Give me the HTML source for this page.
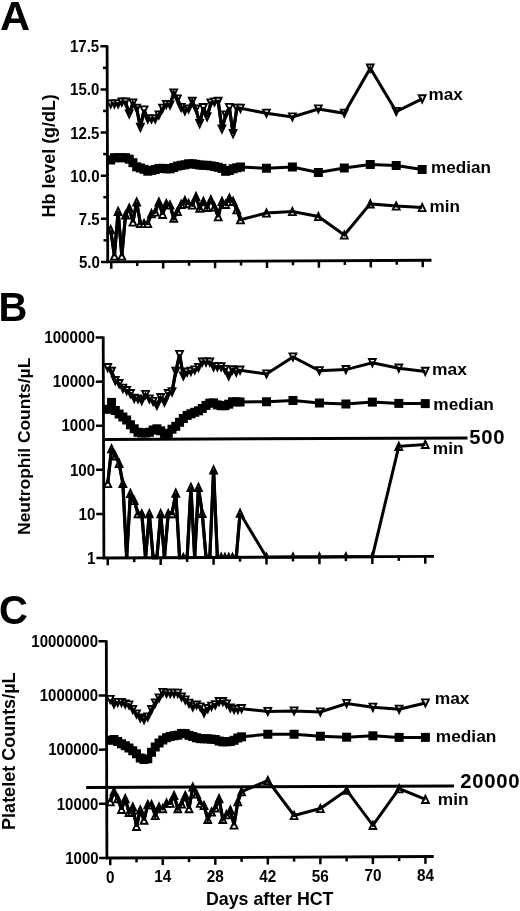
<!DOCTYPE html>
<html lang="en"><head><meta charset="utf-8"><title>Figure</title>
<style>html,body{margin:0;padding:0;background:#fff}svg{display:block}</style></head><body>
<svg width="520" height="911" viewBox="0 0 520 911">
<rect width="520" height="911" fill="#fff"/>
<polygon points="107.3,100.35 114.1,100.35 110.7,107.6" fill="#fff" stroke="#000" stroke-width="1.9"/>
<polygon points="111.01,100.35 117.81,100.35 114.41,107.6" fill="#fff" stroke="#000" stroke-width="1.9"/>
<polygon points="114.72,100.35 121.52,100.35 118.12,107.6" fill="#fff" stroke="#000" stroke-width="1.9"/>
<polygon points="118.42,98.55 125.22,98.55 121.82,105.8" fill="#fff" stroke="#000" stroke-width="1.9"/>
<polygon points="122.13,98.55 128.93,98.55 125.53,105.8" fill="#fff" stroke="#000" stroke-width="1.9"/>
<polygon points="125.84,110.35 132.64,110.35 129.24,117.6" fill="#fff" stroke="#000" stroke-width="1.9"/>
<polygon points="129.55,99.35 136.35,99.35 132.95,106.6" fill="#fff" stroke="#000" stroke-width="1.9"/>
<polygon points="133.26,104.65 140.06,104.65 136.66,111.9" fill="#fff" stroke="#000" stroke-width="1.9"/>
<polygon points="136.96,123.65 143.76,123.65 140.36,130.9" fill="#fff" stroke="#000" stroke-width="1.9"/>
<polygon points="140.67,106.35 147.47,106.35 144.07,113.6" fill="#fff" stroke="#000" stroke-width="1.9"/>
<polygon points="144.38,115.35 151.18,115.35 147.78,122.6" fill="#fff" stroke="#000" stroke-width="1.9"/>
<polygon points="148.09,115.35 154.89,115.35 151.49,122.6" fill="#fff" stroke="#000" stroke-width="1.9"/>
<polygon points="151.8,115.35 158.6,115.35 155.2,122.6" fill="#fff" stroke="#000" stroke-width="1.9"/>
<polygon points="155.5,111.35 162.3,111.35 158.9,118.6" fill="#fff" stroke="#000" stroke-width="1.9"/>
<polygon points="159.21,104.65 166.01,104.65 162.61,111.9" fill="#fff" stroke="#000" stroke-width="1.9"/>
<polygon points="162.92,100.85 169.72,100.85 166.32,108.1" fill="#fff" stroke="#000" stroke-width="1.9"/>
<polygon points="166.63,101.35 173.43,101.35 170.03,108.6" fill="#fff" stroke="#000" stroke-width="1.9"/>
<polygon points="170.34,89.35 177.14,89.35 173.74,96.6" fill="#fff" stroke="#000" stroke-width="1.9"/>
<polygon points="174.04,95.35 180.84,95.35 177.44,102.6" fill="#fff" stroke="#000" stroke-width="1.9"/>
<polygon points="177.75,103.85 184.55,103.85 181.15,111.1" fill="#fff" stroke="#000" stroke-width="1.9"/>
<polygon points="181.46,107.15 188.26,107.15 184.86,114.4" fill="#fff" stroke="#000" stroke-width="1.9"/>
<polygon points="185.17,105.35 191.97,105.35 188.57,112.6" fill="#fff" stroke="#000" stroke-width="1.9"/>
<polygon points="188.88,97.75 195.68,97.75 192.28,105" fill="#fff" stroke="#000" stroke-width="1.9"/>
<polygon points="192.58,105.35 199.38,105.35 195.98,112.6" fill="#fff" stroke="#000" stroke-width="1.9"/>
<polygon points="196.29,119.95 203.09,119.95 199.69,127.2" fill="#fff" stroke="#000" stroke-width="1.9"/>
<polygon points="200,103.95 206.8,103.95 203.4,111.2" fill="#fff" stroke="#000" stroke-width="1.9"/>
<polygon points="203.71,113.15 210.51,113.15 207.11,120.4" fill="#fff" stroke="#000" stroke-width="1.9"/>
<polygon points="207.42,99.35 214.22,99.35 210.82,106.6" fill="#fff" stroke="#000" stroke-width="1.9"/>
<polygon points="211.12,98.35 217.92,98.35 214.52,105.6" fill="#fff" stroke="#000" stroke-width="1.9"/>
<polygon points="214.83,97.75 221.63,97.75 218.23,105" fill="#fff" stroke="#000" stroke-width="1.9"/>
<polygon points="218.54,125.35 225.34,125.35 221.94,132.6" fill="#fff" stroke="#000" stroke-width="1.9"/>
<polygon points="222.25,111.35 229.05,111.35 225.65,118.6" fill="#fff" stroke="#000" stroke-width="1.9"/>
<polygon points="225.96,103.85 232.76,103.85 229.36,111.1" fill="#fff" stroke="#000" stroke-width="1.9"/>
<polygon points="229.66,130.05 236.46,130.05 233.06,137.3" fill="#fff" stroke="#000" stroke-width="1.9"/>
<polygon points="233.37,104.65 240.17,104.65 236.77,111.9" fill="#fff" stroke="#000" stroke-width="1.9"/>
<polygon points="237.08,104.65 243.88,104.65 240.48,111.9" fill="#fff" stroke="#000" stroke-width="1.9"/>
<polygon points="263.04,109.6 269.84,109.6 266.44,116.85" fill="#fff" stroke="#000" stroke-width="1.9"/>
<polygon points="288.99,113.35 295.79,113.35 292.39,120.6" fill="#fff" stroke="#000" stroke-width="1.9"/>
<polygon points="314.95,105.35 321.75,105.35 318.35,112.6" fill="#fff" stroke="#000" stroke-width="1.9"/>
<polygon points="340.9,109.6 347.7,109.6 344.3,116.85" fill="#fff" stroke="#000" stroke-width="1.9"/>
<polygon points="366.86,64.55 373.66,64.55 370.26,71.8" fill="#fff" stroke="#000" stroke-width="1.9"/>
<polygon points="392.82,107.85 399.62,107.85 396.22,115.1" fill="#fff" stroke="#000" stroke-width="1.9"/>
<polygon points="418.77,95.25 425.57,95.25 422.17,102.5" fill="#fff" stroke="#000" stroke-width="1.9"/>
<polyline fill="none" stroke="#000" stroke-width="3" stroke-linejoin="miter" stroke-miterlimit="3" points="110.7,104 114.41,104 118.12,104 121.82,102.2 125.53,102.2 129.24,114 132.95,103 136.66,108.3 140.36,127.3 144.07,110 147.78,119 151.49,119 155.2,119 158.9,115 162.61,108.3 166.32,104.5 170.03,105 173.74,93 177.44,99 181.15,107.5 184.86,110.8 188.57,109 192.28,101.4 195.98,109 199.69,123.6 203.4,107.6 207.11,116.8 210.82,103 214.52,102 218.23,101.4 221.94,129 225.65,115 229.36,107.5 233.06,133.7 236.77,108.3 240.48,108.3 266.44,113.25 292.39,117 318.35,109 344.3,113.25 370.26,68.2 396.22,111.5 422.17,98.9"/>
<polyline fill="none" stroke="#000" stroke-width="3.2" stroke-linejoin="miter" stroke-miterlimit="3" points="110.7,104 114.41,104 118.12,104 121.82,102.2 125.53,102.2 129.24,114 132.95,103 136.66,108.3 140.36,127.3 144.07,110 147.78,119 151.49,119 155.2,119 158.9,115 162.61,108.3 166.32,104.5 170.03,105 173.74,93 177.44,99 181.15,107.5 184.86,110.8 188.57,109 192.28,101.4 195.98,109 199.69,123.6 203.4,107.6 207.11,116.8 210.82,103 214.52,102 218.23,101.4 221.94,129 225.65,115 229.36,107.5 233.06,133.7 236.77,108.3 240.48,108.3"/>
<polygon points="107.3,233.35 114.1,233.35 110.7,226.1" fill="#fff" stroke="#000" stroke-width="1.9"/>
<polygon points="111.01,259.65 117.81,259.65 114.41,252.4" fill="#fff" stroke="#000" stroke-width="1.9"/>
<polygon points="114.72,214.95 121.52,214.95 118.12,207.7" fill="#fff" stroke="#000" stroke-width="1.9"/>
<polygon points="118.42,259.65 125.22,259.65 121.82,252.4" fill="#fff" stroke="#000" stroke-width="1.9"/>
<polygon points="122.13,218.65 128.93,218.65 125.53,211.4" fill="#fff" stroke="#000" stroke-width="1.9"/>
<polygon points="125.84,211.85 132.64,211.85 129.24,204.6" fill="#fff" stroke="#000" stroke-width="1.9"/>
<polygon points="129.55,225.65 136.35,225.65 132.95,218.4" fill="#fff" stroke="#000" stroke-width="1.9"/>
<polygon points="133.26,205.65 140.06,205.65 136.66,198.4" fill="#fff" stroke="#000" stroke-width="1.9"/>
<polygon points="136.96,227.15 143.76,227.15 140.36,219.9" fill="#fff" stroke="#000" stroke-width="1.9"/>
<polygon points="140.67,227.15 147.47,227.15 144.07,219.9" fill="#fff" stroke="#000" stroke-width="1.9"/>
<polygon points="144.38,227.15 151.18,227.15 147.78,219.9" fill="#fff" stroke="#000" stroke-width="1.9"/>
<polygon points="148.09,217.25 154.89,217.25 151.49,210" fill="#fff" stroke="#000" stroke-width="1.9"/>
<polygon points="151.8,215.65 158.6,215.65 155.2,208.4" fill="#fff" stroke="#000" stroke-width="1.9"/>
<polygon points="155.5,205.65 162.3,205.65 158.9,198.4" fill="#fff" stroke="#000" stroke-width="1.9"/>
<polygon points="159.21,217.95 166.01,217.95 162.61,210.7" fill="#fff" stroke="#000" stroke-width="1.9"/>
<polygon points="162.92,207.25 169.72,207.25 166.32,200" fill="#fff" stroke="#000" stroke-width="1.9"/>
<polygon points="166.63,208.65 173.43,208.65 170.03,201.4" fill="#fff" stroke="#000" stroke-width="1.9"/>
<polygon points="170.34,221.85 177.14,221.85 173.74,214.6" fill="#fff" stroke="#000" stroke-width="1.9"/>
<polygon points="174.04,214.95 180.84,214.95 177.44,207.7" fill="#fff" stroke="#000" stroke-width="1.9"/>
<polygon points="177.75,207.95 184.55,207.95 181.15,200.7" fill="#fff" stroke="#000" stroke-width="1.9"/>
<polygon points="181.46,204.15 188.26,204.15 184.86,196.9" fill="#fff" stroke="#000" stroke-width="1.9"/>
<polygon points="185.17,207.25 191.97,207.25 188.57,200" fill="#fff" stroke="#000" stroke-width="1.9"/>
<polygon points="188.88,208.65 195.68,208.65 192.28,201.4" fill="#fff" stroke="#000" stroke-width="1.9"/>
<polygon points="192.58,200.35 199.38,200.35 195.98,193.1" fill="#fff" stroke="#000" stroke-width="1.9"/>
<polygon points="196.29,211.85 203.09,211.85 199.69,204.6" fill="#fff" stroke="#000" stroke-width="1.9"/>
<polygon points="200,204.95 206.8,204.95 203.4,197.7" fill="#fff" stroke="#000" stroke-width="1.9"/>
<polygon points="203.71,211.05 210.51,211.05 207.11,203.8" fill="#fff" stroke="#000" stroke-width="1.9"/>
<polygon points="207.42,203.35 214.22,203.35 210.82,196.1" fill="#fff" stroke="#000" stroke-width="1.9"/>
<polygon points="211.12,210.65 217.92,210.65 214.52,203.4" fill="#fff" stroke="#000" stroke-width="1.9"/>
<polygon points="214.83,220.35 221.63,220.35 218.23,213.1" fill="#fff" stroke="#000" stroke-width="1.9"/>
<polygon points="218.54,204.95 225.34,204.95 221.94,197.7" fill="#fff" stroke="#000" stroke-width="1.9"/>
<polygon points="222.25,207.95 229.05,207.95 225.65,200.7" fill="#fff" stroke="#000" stroke-width="1.9"/>
<polygon points="225.96,201.85 232.76,201.85 229.36,194.6" fill="#fff" stroke="#000" stroke-width="1.9"/>
<polygon points="229.66,204.95 236.46,204.95 233.06,197.7" fill="#fff" stroke="#000" stroke-width="1.9"/>
<polygon points="233.37,213.35 240.17,213.35 236.77,206.1" fill="#fff" stroke="#000" stroke-width="1.9"/>
<polygon points="237.08,223.35 243.88,223.35 240.48,216.1" fill="#fff" stroke="#000" stroke-width="1.9"/>
<polygon points="263.04,216.65 269.84,216.65 266.44,209.4" fill="#fff" stroke="#000" stroke-width="1.9"/>
<polygon points="288.99,215.15 295.79,215.15 292.39,207.9" fill="#fff" stroke="#000" stroke-width="1.9"/>
<polygon points="314.95,220.15 321.75,220.15 318.35,212.9" fill="#fff" stroke="#000" stroke-width="1.9"/>
<polygon points="340.9,238.65 347.7,238.65 344.3,231.4" fill="#fff" stroke="#000" stroke-width="1.9"/>
<polygon points="366.86,207.55 373.66,207.55 370.26,200.3" fill="#fff" stroke="#000" stroke-width="1.9"/>
<polygon points="392.82,209.65 399.62,209.65 396.22,202.4" fill="#fff" stroke="#000" stroke-width="1.9"/>
<polygon points="418.77,211.15 425.57,211.15 422.17,203.9" fill="#fff" stroke="#000" stroke-width="1.9"/>
<polyline fill="none" stroke="#000" stroke-width="3" stroke-linejoin="miter" stroke-miterlimit="3" points="110.7,229.7 114.41,256 118.12,211.3 121.82,256 125.53,215 129.24,208.2 132.95,222 136.66,202 140.36,223.5 144.07,223.5 147.78,223.5 151.49,213.6 155.2,212 158.9,202 162.61,214.3 166.32,203.6 170.03,205 173.74,218.2 177.44,211.3 181.15,204.3 184.86,200.5 188.57,203.6 192.28,205 195.98,196.7 199.69,208.2 203.4,201.3 207.11,207.4 210.82,199.7 214.52,207 218.23,216.7 221.94,201.3 225.65,204.3 229.36,198.2 233.06,201.3 236.77,209.7 240.48,219.7 266.44,213 292.39,211.5 318.35,216.5 344.3,235 370.26,203.9 396.22,206 422.17,207.5"/>
<polyline fill="none" stroke="#000" stroke-width="3.2" stroke-linejoin="miter" stroke-miterlimit="3" points="110.7,229.7 114.41,256 118.12,211.3 121.82,256 125.53,215 129.24,208.2 132.95,222 136.66,202 140.36,223.5 144.07,223.5 147.78,223.5 151.49,213.6 155.2,212 158.9,202 162.61,214.3 166.32,203.6 170.03,205 173.74,218.2 177.44,211.3 181.15,204.3 184.86,200.5 188.57,203.6 192.28,205 195.98,196.7 199.69,208.2 203.4,201.3 207.11,207.4 210.82,199.7 214.52,207 218.23,216.7 221.94,201.3 225.65,204.3 229.36,198.2 233.06,201.3 236.77,209.7 240.48,219.7"/>
<polyline fill="none" stroke="#000" stroke-width="3" stroke-linejoin="miter" stroke-miterlimit="3" points="110.7,160 114.41,157.7 118.12,157.7 121.82,157.7 125.53,157.7 129.24,159.2 132.95,162.7 136.66,166.8 140.36,168 144.07,169.3 147.78,171.2 151.49,170.4 155.2,169.6 158.9,168.4 162.61,168.4 166.32,168.8 170.03,168.8 173.74,167.6 177.44,166.1 181.15,165.3 184.86,164.8 188.57,163.8 192.28,163.8 195.98,164.3 199.69,165 203.4,165.3 207.11,165.3 210.82,165.8 214.52,166.5 218.23,167.3 221.94,168.4 225.65,171.3 229.36,170.5 233.06,168.8 236.77,167.8 240.48,167 266.44,168.25 292.39,167 318.35,172.5 344.3,168 370.26,164.5 396.22,165.5 422.17,169.5"/>
<rect x="106.2" y="155.5" width="9" height="9" fill="#000"/>
<rect x="109.91" y="153.2" width="9" height="9" fill="#000"/>
<rect x="113.62" y="153.2" width="9" height="9" fill="#000"/>
<rect x="117.32" y="153.2" width="9" height="9" fill="#000"/>
<rect x="121.03" y="153.2" width="9" height="9" fill="#000"/>
<rect x="124.74" y="154.7" width="9" height="9" fill="#000"/>
<rect x="128.45" y="158.2" width="9" height="9" fill="#000"/>
<rect x="132.16" y="162.3" width="9" height="9" fill="#000"/>
<rect x="135.86" y="163.5" width="9" height="9" fill="#000"/>
<rect x="139.57" y="164.8" width="9" height="9" fill="#000"/>
<rect x="143.28" y="166.7" width="9" height="9" fill="#000"/>
<rect x="146.99" y="165.9" width="9" height="9" fill="#000"/>
<rect x="150.7" y="165.1" width="9" height="9" fill="#000"/>
<rect x="154.4" y="163.9" width="9" height="9" fill="#000"/>
<rect x="158.11" y="163.9" width="9" height="9" fill="#000"/>
<rect x="161.82" y="164.3" width="9" height="9" fill="#000"/>
<rect x="165.53" y="164.3" width="9" height="9" fill="#000"/>
<rect x="169.24" y="163.1" width="9" height="9" fill="#000"/>
<rect x="172.94" y="161.6" width="9" height="9" fill="#000"/>
<rect x="176.65" y="160.8" width="9" height="9" fill="#000"/>
<rect x="180.36" y="160.3" width="9" height="9" fill="#000"/>
<rect x="184.07" y="159.3" width="9" height="9" fill="#000"/>
<rect x="187.78" y="159.3" width="9" height="9" fill="#000"/>
<rect x="191.48" y="159.8" width="9" height="9" fill="#000"/>
<rect x="195.19" y="160.5" width="9" height="9" fill="#000"/>
<rect x="198.9" y="160.8" width="9" height="9" fill="#000"/>
<rect x="202.61" y="160.8" width="9" height="9" fill="#000"/>
<rect x="206.32" y="161.3" width="9" height="9" fill="#000"/>
<rect x="210.02" y="162" width="9" height="9" fill="#000"/>
<rect x="213.73" y="162.8" width="9" height="9" fill="#000"/>
<rect x="217.44" y="163.9" width="9" height="9" fill="#000"/>
<rect x="221.15" y="166.8" width="9" height="9" fill="#000"/>
<rect x="224.86" y="166" width="9" height="9" fill="#000"/>
<rect x="228.56" y="164.3" width="9" height="9" fill="#000"/>
<rect x="232.27" y="163.3" width="9" height="9" fill="#000"/>
<rect x="235.98" y="162.5" width="9" height="9" fill="#000"/>
<rect x="261.94" y="163.75" width="9" height="9" fill="#000"/>
<rect x="287.89" y="162.5" width="9" height="9" fill="#000"/>
<rect x="313.85" y="168" width="9" height="9" fill="#000"/>
<rect x="339.8" y="163.5" width="9" height="9" fill="#000"/>
<rect x="365.76" y="160" width="9" height="9" fill="#000"/>
<rect x="391.72" y="161" width="9" height="9" fill="#000"/>
<rect x="417.67" y="165" width="9" height="9" fill="#000"/>
<line x1="107.1" y1="45.25" x2="107.75" y2="263" stroke="#000" stroke-width="2.8"/>
<line x1="106.65" y1="261.9" x2="431.5" y2="260.25" stroke="#000" stroke-width="2.8"/>
<line x1="100.4" y1="46.28" x2="107.1" y2="46.25" stroke="#000" stroke-width="2.5"/>
<text transform="translate(99.2,52.25) scale(0.940,1)" font-size="16" text-anchor="end" font-family="Liberation Sans, Arial, Helvetica, sans-serif" font-weight="bold" >17.5</text>
<line x1="102.96" y1="67.81" x2="107.16" y2="67.81" stroke="#000" stroke-width="2.5"/>
<line x1="100.53" y1="89.41" x2="107.23" y2="89.38" stroke="#000" stroke-width="2.5"/>
<text transform="translate(99.33,95.38) scale(0.940,1)" font-size="16" text-anchor="end" font-family="Liberation Sans, Arial, Helvetica, sans-serif" font-weight="bold" >15.0</text>
<line x1="103.09" y1="110.94" x2="107.3" y2="110.94" stroke="#000" stroke-width="2.5"/>
<line x1="100.66" y1="132.54" x2="107.36" y2="132.51" stroke="#000" stroke-width="2.5"/>
<text transform="translate(99.46,138.51) scale(0.940,1)" font-size="16" text-anchor="end" font-family="Liberation Sans, Arial, Helvetica, sans-serif" font-weight="bold" >12.5</text>
<line x1="103.22" y1="154.07" x2="107.42" y2="154.07" stroke="#000" stroke-width="2.5"/>
<line x1="100.79" y1="175.67" x2="107.49" y2="175.64" stroke="#000" stroke-width="2.5"/>
<text transform="translate(99.59,181.64) scale(0.940,1)" font-size="16" text-anchor="end" font-family="Liberation Sans, Arial, Helvetica, sans-serif" font-weight="bold" >10.0</text>
<line x1="103.35" y1="197.2" x2="107.55" y2="197.2" stroke="#000" stroke-width="2.5"/>
<line x1="100.92" y1="218.8" x2="107.62" y2="218.77" stroke="#000" stroke-width="2.5"/>
<text transform="translate(99.72,224.77) scale(0.940,1)" font-size="16" text-anchor="end" font-family="Liberation Sans, Arial, Helvetica, sans-serif" font-weight="bold" >7.5</text>
<line x1="103.48" y1="240.33" x2="107.69" y2="240.33" stroke="#000" stroke-width="2.5"/>
<line x1="101.05" y1="261.93" x2="107.75" y2="261.9" stroke="#000" stroke-width="2.5"/>
<text transform="translate(99.85,267.9) scale(0.940,1)" font-size="16" text-anchor="end" font-family="Liberation Sans, Arial, Helvetica, sans-serif" font-weight="bold" >5.0</text>
<line x1="111.25" y1="261.88" x2="111.25" y2="268.78" stroke="#000" stroke-width="2.5"/>
<line x1="137.21" y1="261.75" x2="137.21" y2="266.05" stroke="#000" stroke-width="2.5"/>
<line x1="163.16" y1="261.62" x2="163.16" y2="268.52" stroke="#000" stroke-width="2.5"/>
<line x1="189.12" y1="261.49" x2="189.12" y2="265.79" stroke="#000" stroke-width="2.5"/>
<line x1="215.07" y1="261.35" x2="215.07" y2="268.25" stroke="#000" stroke-width="2.5"/>
<line x1="241.03" y1="261.22" x2="241.03" y2="265.52" stroke="#000" stroke-width="2.5"/>
<line x1="266.99" y1="261.09" x2="266.99" y2="267.99" stroke="#000" stroke-width="2.5"/>
<line x1="292.94" y1="260.96" x2="292.94" y2="265.26" stroke="#000" stroke-width="2.5"/>
<line x1="318.9" y1="260.82" x2="318.9" y2="267.72" stroke="#000" stroke-width="2.5"/>
<line x1="344.85" y1="260.69" x2="344.85" y2="264.99" stroke="#000" stroke-width="2.5"/>
<line x1="370.81" y1="260.56" x2="370.81" y2="267.46" stroke="#000" stroke-width="2.5"/>
<line x1="396.77" y1="260.43" x2="396.77" y2="264.73" stroke="#000" stroke-width="2.5"/>
<line x1="422.72" y1="260.29" x2="422.72" y2="267.19" stroke="#000" stroke-width="2.5"/>
<text x="428.6" y="100.3" font-size="17.1" text-anchor="start" font-family="Liberation Sans, Arial, Helvetica, sans-serif" font-weight="bold" >max</text>
<text x="431" y="173.2" font-size="17.1" text-anchor="start" font-family="Liberation Sans, Arial, Helvetica, sans-serif" font-weight="bold" >median</text>
<text x="429.5" y="211.8" font-size="17.1" text-anchor="start" font-family="Liberation Sans, Arial, Helvetica, sans-serif" font-weight="bold" >min</text>
<text transform="translate(55.2,155.8) rotate(-90)" font-size="17.9" text-anchor="middle" font-family="Liberation Sans, Arial, Helvetica, sans-serif" font-weight="bold">Hb level (g/dL)</text>
<text transform="translate(0,29.5) scale(1.035,1)" font-size="40.3" text-anchor="start" font-family="Liberation Sans, Arial, Helvetica, sans-serif" font-weight="bold" >A</text>
<clipPath id="clipB"><polygon points="90,300 520,300 520,554.48 90,556.57"/></clipPath>
<polygon points="104.35,363.95 111.15,363.95 107.75,371.2" fill="#fff" stroke="#000" stroke-width="1.9"/>
<polygon points="108.13,367.75 114.93,367.75 111.53,375" fill="#fff" stroke="#000" stroke-width="1.9"/>
<polygon points="111.91,377.05 118.71,377.05 115.31,384.3" fill="#fff" stroke="#000" stroke-width="1.9"/>
<polygon points="115.69,380.05 122.49,380.05 119.09,387.3" fill="#fff" stroke="#000" stroke-width="1.9"/>
<polygon points="119.47,384.65 126.27,384.65 122.87,391.9" fill="#fff" stroke="#000" stroke-width="1.9"/>
<polygon points="123.25,387.05 130.05,387.05 126.65,394.3" fill="#fff" stroke="#000" stroke-width="1.9"/>
<polygon points="127.03,390.05 133.83,390.05 130.43,397.3" fill="#fff" stroke="#000" stroke-width="1.9"/>
<polygon points="130.81,394.65 137.61,394.65 134.21,401.9" fill="#fff" stroke="#000" stroke-width="1.9"/>
<polygon points="134.59,395.35 141.39,395.35 137.99,402.6" fill="#fff" stroke="#000" stroke-width="1.9"/>
<polygon points="138.37,397.05 145.17,397.05 141.77,404.3" fill="#fff" stroke="#000" stroke-width="1.9"/>
<polygon points="142.15,390.85 148.95,390.85 145.55,398.1" fill="#fff" stroke="#000" stroke-width="1.9"/>
<polygon points="145.93,395.35 152.73,395.35 149.33,402.6" fill="#fff" stroke="#000" stroke-width="1.9"/>
<polygon points="149.71,397.85 156.51,397.85 153.11,405.1" fill="#fff" stroke="#000" stroke-width="1.9"/>
<polygon points="153.49,401.65 160.29,401.65 156.89,408.9" fill="#fff" stroke="#000" stroke-width="1.9"/>
<polygon points="157.27,393.95 164.07,393.95 160.67,401.2" fill="#fff" stroke="#000" stroke-width="1.9"/>
<polygon points="161.05,398.55 167.85,398.55 164.45,405.8" fill="#fff" stroke="#000" stroke-width="1.9"/>
<polygon points="164.83,390.05 171.63,390.05 168.23,397.3" fill="#fff" stroke="#000" stroke-width="1.9"/>
<polygon points="168.61,388.15 175.41,388.15 172.01,395.4" fill="#fff" stroke="#000" stroke-width="1.9"/>
<polygon points="172.39,367.75 179.19,367.75 175.79,375" fill="#fff" stroke="#000" stroke-width="1.9"/>
<polygon points="176.17,350.85 182.97,350.85 179.57,358.1" fill="#fff" stroke="#000" stroke-width="1.9"/>
<polygon points="179.95,372.35 186.75,372.35 183.35,379.6" fill="#fff" stroke="#000" stroke-width="1.9"/>
<polygon points="183.73,368.55 190.53,368.55 187.13,375.8" fill="#fff" stroke="#000" stroke-width="1.9"/>
<polygon points="187.51,367.75 194.31,367.75 190.91,375" fill="#fff" stroke="#000" stroke-width="1.9"/>
<polygon points="191.29,366.35 198.09,366.35 194.69,373.6" fill="#fff" stroke="#000" stroke-width="1.9"/>
<polygon points="195.07,363.85 201.87,363.85 198.47,371.1" fill="#fff" stroke="#000" stroke-width="1.9"/>
<polygon points="198.85,358.55 205.65,358.55 202.25,365.8" fill="#fff" stroke="#000" stroke-width="1.9"/>
<polygon points="202.63,358.55 209.43,358.55 206.03,365.8" fill="#fff" stroke="#000" stroke-width="1.9"/>
<polygon points="206.41,358.55 213.21,358.55 209.81,365.8" fill="#fff" stroke="#000" stroke-width="1.9"/>
<polygon points="210.19,363.15 216.99,363.15 213.59,370.4" fill="#fff" stroke="#000" stroke-width="1.9"/>
<polygon points="213.97,363.15 220.77,363.15 217.37,370.4" fill="#fff" stroke="#000" stroke-width="1.9"/>
<polygon points="217.75,363.15 224.55,363.15 221.15,370.4" fill="#fff" stroke="#000" stroke-width="1.9"/>
<polygon points="221.53,365.85 228.33,365.85 224.93,373.1" fill="#fff" stroke="#000" stroke-width="1.9"/>
<polygon points="225.31,372.35 232.11,372.35 228.71,379.6" fill="#fff" stroke="#000" stroke-width="1.9"/>
<polygon points="229.09,366.25 235.89,366.25 232.49,373.5" fill="#fff" stroke="#000" stroke-width="1.9"/>
<polygon points="232.87,368.55 239.67,368.55 236.27,375.8" fill="#fff" stroke="#000" stroke-width="1.9"/>
<polygon points="236.65,366.55 243.45,366.55 240.05,373.8" fill="#fff" stroke="#000" stroke-width="1.9"/>
<polygon points="263.11,370.35 269.91,370.35 266.51,377.6" fill="#fff" stroke="#000" stroke-width="1.9"/>
<polygon points="289.57,353.35 296.37,353.35 292.97,360.6" fill="#fff" stroke="#000" stroke-width="1.9"/>
<polygon points="316.03,367.1 322.83,367.1 319.43,374.35" fill="#fff" stroke="#000" stroke-width="1.9"/>
<polygon points="342.49,365.95 349.29,365.95 345.89,373.2" fill="#fff" stroke="#000" stroke-width="1.9"/>
<polygon points="368.95,359.05 375.75,359.05 372.35,366.3" fill="#fff" stroke="#000" stroke-width="1.9"/>
<polygon points="395.41,364.55 402.21,364.55 398.81,371.8" fill="#fff" stroke="#000" stroke-width="1.9"/>
<polygon points="421.87,367.75 428.67,367.75 425.27,375" fill="#fff" stroke="#000" stroke-width="1.9"/>
<polyline fill="none" stroke="#000" stroke-width="3" stroke-linejoin="miter" stroke-miterlimit="3" points="107.75,367.6 111.53,371.4 115.31,380.7 119.09,383.7 122.87,388.3 126.65,390.7 130.43,393.7 134.21,398.3 137.99,399 141.77,400.7 145.55,394.5 149.33,399 153.11,401.5 156.89,405.3 160.67,397.6 164.45,402.2 168.23,393.7 172.01,391.8 175.79,371.4 179.57,354.5 183.35,376 187.13,372.2 190.91,371.4 194.69,370 198.47,367.5 202.25,362.2 206.03,362.2 209.81,362.2 213.59,366.8 217.37,366.8 221.15,366.8 224.93,369.5 228.71,376 232.49,369.9 236.27,372.2 240.05,370.2 266.51,374 292.97,357 319.43,370.75 345.89,369.6 372.35,362.7 398.81,368.2 425.27,371.4"/>
<polyline fill="none" stroke="#000" stroke-width="3.2" stroke-linejoin="miter" stroke-miterlimit="3" points="107.75,367.6 111.53,371.4 115.31,380.7 119.09,383.7 122.87,388.3 126.65,390.7 130.43,393.7 134.21,398.3 137.99,399 141.77,400.7 145.55,394.5 149.33,399 153.11,401.5 156.89,405.3 160.67,397.6 164.45,402.2 168.23,393.7 172.01,391.8 175.79,371.4 179.57,354.5 183.35,376 187.13,372.2 190.91,371.4 194.69,370 198.47,367.5 202.25,362.2 206.03,362.2 209.81,362.2 213.59,366.8 217.37,366.8 221.15,366.8 224.93,369.5 228.71,376 232.49,369.9 236.27,372.2 240.05,370.2"/>
<g clip-path="url(#clipB)">
<polygon points="104.35,487.09 111.15,487.09 107.75,479.84" fill="#fff" stroke="#000" stroke-width="1.9"/>
<polygon points="108.13,452.37 114.93,452.37 111.53,445.12" fill="#fff" stroke="#000" stroke-width="1.9"/>
<polygon points="111.91,459.46 118.71,459.46 115.31,452.21" fill="#fff" stroke="#000" stroke-width="1.9"/>
<polygon points="115.69,467.07 122.49,467.07 119.09,459.82" fill="#fff" stroke="#000" stroke-width="1.9"/>
<polygon points="119.47,487.02 126.27,487.02 122.87,479.77" fill="#fff" stroke="#000" stroke-width="1.9"/>
<polygon points="123.25,561.54 130.05,561.54 126.65,554.29" fill="#fff" stroke="#000" stroke-width="1.9"/>
<polygon points="127.03,497.03 133.83,497.03 130.43,489.78" fill="#fff" stroke="#000" stroke-width="1.9"/>
<polygon points="130.81,504.13 137.61,504.13 134.21,496.88" fill="#fff" stroke="#000" stroke-width="1.9"/>
<polygon points="134.59,517.38 141.39,517.38 137.99,510.13" fill="#fff" stroke="#000" stroke-width="1.9"/>
<polygon points="138.37,517.37 145.17,517.37 141.77,510.12" fill="#fff" stroke="#000" stroke-width="1.9"/>
<polygon points="142.15,561.45 148.95,561.45 145.55,554.2" fill="#fff" stroke="#000" stroke-width="1.9"/>
<polygon points="145.93,517.33 152.73,517.33 149.33,510.08" fill="#fff" stroke="#000" stroke-width="1.9"/>
<polygon points="149.71,561.41 156.51,561.41 153.11,554.16" fill="#fff" stroke="#000" stroke-width="1.9"/>
<polygon points="153.49,561.39 160.29,561.39 156.89,554.14" fill="#fff" stroke="#000" stroke-width="1.9"/>
<polygon points="157.27,517.27 164.07,517.27 160.67,510.02" fill="#fff" stroke="#000" stroke-width="1.9"/>
<polygon points="161.05,561.36 167.85,561.36 164.45,554.11" fill="#fff" stroke="#000" stroke-width="1.9"/>
<polygon points="164.83,517.24 171.63,517.24 168.23,509.99" fill="#fff" stroke="#000" stroke-width="1.9"/>
<polygon points="168.61,517.22 175.41,517.22 172.01,509.97" fill="#fff" stroke="#000" stroke-width="1.9"/>
<polygon points="172.39,496.81 179.19,496.81 175.79,489.56" fill="#fff" stroke="#000" stroke-width="1.9"/>
<polygon points="176.17,561.28 182.97,561.28 179.57,554.03" fill="#fff" stroke="#000" stroke-width="1.9"/>
<polygon points="179.95,561.26 186.75,561.26 183.35,554.01" fill="#fff" stroke="#000" stroke-width="1.9"/>
<polygon points="183.73,561.25 190.53,561.25 187.13,554" fill="#fff" stroke="#000" stroke-width="1.9"/>
<polygon points="187.51,491.06 194.31,491.06 190.91,483.81" fill="#fff" stroke="#000" stroke-width="1.9"/>
<polygon points="191.29,561.21 198.09,561.21 194.69,553.96" fill="#fff" stroke="#000" stroke-width="1.9"/>
<polygon points="195.07,491.03 201.87,491.03 198.47,483.78" fill="#fff" stroke="#000" stroke-width="1.9"/>
<polygon points="198.85,517.07 205.65,517.07 202.25,509.82" fill="#fff" stroke="#000" stroke-width="1.9"/>
<polygon points="202.63,561.15 209.43,561.15 206.03,553.9" fill="#fff" stroke="#000" stroke-width="1.9"/>
<polygon points="206.41,561.14 213.21,561.14 209.81,553.89" fill="#fff" stroke="#000" stroke-width="1.9"/>
<polygon points="210.19,473.5 216.99,473.5 213.59,466.25" fill="#fff" stroke="#000" stroke-width="1.9"/>
<polygon points="213.97,561.1 220.77,561.1 217.37,553.85" fill="#fff" stroke="#000" stroke-width="1.9"/>
<polygon points="217.75,561.08 224.55,561.08 221.15,553.83" fill="#fff" stroke="#000" stroke-width="1.9"/>
<polygon points="221.53,561.06 228.33,561.06 224.93,553.81" fill="#fff" stroke="#000" stroke-width="1.9"/>
<polygon points="225.31,561.05 232.11,561.05 228.71,553.8" fill="#fff" stroke="#000" stroke-width="1.9"/>
<polygon points="229.09,561.03 235.89,561.03 232.49,553.78" fill="#fff" stroke="#000" stroke-width="1.9"/>
<polygon points="232.87,561.01 239.67,561.01 236.27,553.76" fill="#fff" stroke="#000" stroke-width="1.9"/>
<polygon points="236.65,516.89 243.45,516.89 240.05,509.64" fill="#fff" stroke="#000" stroke-width="1.9"/>
<polygon points="263.11,560.86 269.91,560.86 266.51,553.61" fill="#fff" stroke="#000" stroke-width="1.9"/>
<polygon points="289.57,560.73 296.37,560.73 292.97,553.48" fill="#fff" stroke="#000" stroke-width="1.9"/>
<polygon points="316.03,560.61 322.83,560.61 319.43,553.36" fill="#fff" stroke="#000" stroke-width="1.9"/>
<polygon points="342.49,560.48 349.29,560.48 345.89,553.23" fill="#fff" stroke="#000" stroke-width="1.9"/>
<polygon points="368.95,560.35 375.75,560.35 372.35,553.1" fill="#fff" stroke="#000" stroke-width="1.9"/>
<polygon points="395.41,449.95 402.21,449.95 398.81,442.7" fill="#fff" stroke="#000" stroke-width="1.9"/>
<polygon points="421.87,448.05 428.67,448.05 425.27,440.8" fill="#fff" stroke="#000" stroke-width="1.9"/>
</g>
<polyline fill="none" stroke="#000" stroke-width="3" stroke-linejoin="miter" stroke-miterlimit="3" points="107.75,483.44 111.53,448.72 115.31,455.81 119.09,463.42 122.87,483.37 126.65,557.89 130.43,493.38 134.21,500.48 137.99,513.73 141.77,513.72 145.55,557.8 149.33,513.68 153.11,557.76 156.89,557.74 160.67,513.62 164.45,557.71 168.23,513.59 172.01,513.57 175.79,493.16 179.57,557.63 183.35,557.61 187.13,557.6 190.91,487.41 194.69,557.56 198.47,487.38 202.25,513.42 206.03,557.5 209.81,557.49 213.59,469.85 217.37,557.45 221.15,557.43 224.93,557.41 228.71,557.4 232.49,557.38 236.27,557.36 240.05,513.24 266.51,557.21 292.97,557.08 319.43,556.96 345.89,556.83 372.35,556.7 398.81,446.3 425.27,444.4"/>
<polyline fill="none" stroke="#000" stroke-width="3.2" stroke-linejoin="miter" stroke-miterlimit="3" points="107.75,483.44 111.53,448.72 115.31,455.81 119.09,463.42 122.87,483.37 126.65,557.89 130.43,493.38 134.21,500.48 137.99,513.73 141.77,513.72 145.55,557.8 149.33,513.68 153.11,557.76 156.89,557.74 160.67,513.62 164.45,557.71 168.23,513.59 172.01,513.57 175.79,493.16 179.57,557.63 183.35,557.61 187.13,557.6 190.91,487.41 194.69,557.56 198.47,487.38 202.25,513.42 206.03,557.5 209.81,557.49 213.59,469.85 217.37,557.45 221.15,557.43 224.93,557.41 228.71,557.4 232.49,557.38 236.27,557.36 240.05,513.24"/>
<polyline fill="none" stroke="#000" stroke-width="3" stroke-linejoin="miter" stroke-miterlimit="3" points="107.75,409.3 111.53,402.4 115.31,410.5 119.09,414 122.87,417 126.65,420 130.43,424.8 134.21,428.8 137.99,432.3 141.77,433 145.55,433 149.33,432.3 153.11,430 156.89,428.8 160.67,430.8 164.45,433.4 168.23,433.4 172.01,429.2 175.79,426.3 179.57,422.3 183.35,418.5 187.13,415.4 190.91,413.8 194.69,412.3 198.47,410.8 202.25,408.5 206.03,405.4 209.81,403.1 213.59,402.9 217.37,404.9 221.15,405.7 224.93,405.7 228.71,404.2 232.49,401.8 236.27,401.8 240.05,402 266.51,401.75 292.97,400.5 319.43,403 345.89,404 372.35,402.1 398.81,403.4 425.27,403.6"/>
<rect x="103.25" y="404.8" width="9" height="9" fill="#000"/>
<rect x="107.03" y="397.9" width="9" height="9" fill="#000"/>
<rect x="110.81" y="406" width="9" height="9" fill="#000"/>
<rect x="114.59" y="409.5" width="9" height="9" fill="#000"/>
<rect x="118.37" y="412.5" width="9" height="9" fill="#000"/>
<rect x="122.15" y="415.5" width="9" height="9" fill="#000"/>
<rect x="125.93" y="420.3" width="9" height="9" fill="#000"/>
<rect x="129.71" y="424.3" width="9" height="9" fill="#000"/>
<rect x="133.49" y="427.8" width="9" height="9" fill="#000"/>
<rect x="137.27" y="428.5" width="9" height="9" fill="#000"/>
<rect x="141.05" y="428.5" width="9" height="9" fill="#000"/>
<rect x="144.83" y="427.8" width="9" height="9" fill="#000"/>
<rect x="148.61" y="425.5" width="9" height="9" fill="#000"/>
<rect x="152.39" y="424.3" width="9" height="9" fill="#000"/>
<rect x="156.17" y="426.3" width="9" height="9" fill="#000"/>
<rect x="159.95" y="428.9" width="9" height="9" fill="#000"/>
<rect x="163.73" y="428.9" width="9" height="9" fill="#000"/>
<rect x="167.51" y="424.7" width="9" height="9" fill="#000"/>
<rect x="171.29" y="421.8" width="9" height="9" fill="#000"/>
<rect x="175.07" y="417.8" width="9" height="9" fill="#000"/>
<rect x="178.85" y="414" width="9" height="9" fill="#000"/>
<rect x="182.63" y="410.9" width="9" height="9" fill="#000"/>
<rect x="186.41" y="409.3" width="9" height="9" fill="#000"/>
<rect x="190.19" y="407.8" width="9" height="9" fill="#000"/>
<rect x="193.97" y="406.3" width="9" height="9" fill="#000"/>
<rect x="197.75" y="404" width="9" height="9" fill="#000"/>
<rect x="201.53" y="400.9" width="9" height="9" fill="#000"/>
<rect x="205.31" y="398.6" width="9" height="9" fill="#000"/>
<rect x="209.09" y="398.4" width="9" height="9" fill="#000"/>
<rect x="212.87" y="400.4" width="9" height="9" fill="#000"/>
<rect x="216.65" y="401.2" width="9" height="9" fill="#000"/>
<rect x="220.43" y="401.2" width="9" height="9" fill="#000"/>
<rect x="224.21" y="399.7" width="9" height="9" fill="#000"/>
<rect x="227.99" y="397.3" width="9" height="9" fill="#000"/>
<rect x="231.77" y="397.3" width="9" height="9" fill="#000"/>
<rect x="235.55" y="397.5" width="9" height="9" fill="#000"/>
<rect x="262.01" y="397.25" width="9" height="9" fill="#000"/>
<rect x="288.47" y="396" width="9" height="9" fill="#000"/>
<rect x="314.93" y="398.5" width="9" height="9" fill="#000"/>
<rect x="341.39" y="399.5" width="9" height="9" fill="#000"/>
<rect x="367.85" y="397.6" width="9" height="9" fill="#000"/>
<rect x="394.31" y="398.9" width="9" height="9" fill="#000"/>
<rect x="420.77" y="399.1" width="9" height="9" fill="#000"/>
<line x1="103.9" y1="439.48" x2="467.5" y2="438.01" stroke="#000" stroke-width="3"/>
<line x1="103.2" y1="336.5" x2="103.9" y2="559.1" stroke="#000" stroke-width="2.8"/>
<line x1="102.8" y1="558" x2="434" y2="556.4" stroke="#000" stroke-width="2.8"/>
<line x1="95.7" y1="337.53" x2="103.2" y2="337.5" stroke="#000" stroke-width="2.5"/>
<text transform="translate(94.8,343.2) scale(0.930,1)" font-size="16.3" text-anchor="end" font-family="Liberation Sans, Arial, Helvetica, sans-serif" font-weight="bold" >100000</text>
<line x1="95.84" y1="381.63" x2="103.34" y2="381.6" stroke="#000" stroke-width="2.5"/>
<text transform="translate(94.94,387.3) scale(0.930,1)" font-size="16.3" text-anchor="end" font-family="Liberation Sans, Arial, Helvetica, sans-serif" font-weight="bold" >10000</text>
<line x1="95.98" y1="425.73" x2="103.48" y2="425.7" stroke="#000" stroke-width="2.5"/>
<text transform="translate(95.08,431.4) scale(0.930,1)" font-size="16.3" text-anchor="end" font-family="Liberation Sans, Arial, Helvetica, sans-serif" font-weight="bold" >1000</text>
<line x1="96.12" y1="469.83" x2="103.62" y2="469.8" stroke="#000" stroke-width="2.5"/>
<text transform="translate(95.22,475.5) scale(0.930,1)" font-size="16.3" text-anchor="end" font-family="Liberation Sans, Arial, Helvetica, sans-serif" font-weight="bold" >100</text>
<line x1="96.26" y1="513.93" x2="103.76" y2="513.9" stroke="#000" stroke-width="2.5"/>
<text transform="translate(95.36,519.6) scale(0.930,1)" font-size="16.3" text-anchor="end" font-family="Liberation Sans, Arial, Helvetica, sans-serif" font-weight="bold" >10</text>
<line x1="96.4" y1="558.03" x2="103.9" y2="558" stroke="#000" stroke-width="2.5"/>
<text transform="translate(95.5,563.7) scale(0.930,1)" font-size="16.3" text-anchor="end" font-family="Liberation Sans, Arial, Helvetica, sans-serif" font-weight="bold" >1</text>
<line x1="107.75" y1="557.98" x2="107.75" y2="565.28" stroke="#000" stroke-width="2.5"/>
<line x1="134.21" y1="557.85" x2="134.21" y2="562.15" stroke="#000" stroke-width="2.5"/>
<line x1="160.67" y1="557.72" x2="160.67" y2="565.02" stroke="#000" stroke-width="2.5"/>
<line x1="187.13" y1="557.6" x2="187.13" y2="561.9" stroke="#000" stroke-width="2.5"/>
<line x1="213.59" y1="557.47" x2="213.59" y2="564.77" stroke="#000" stroke-width="2.5"/>
<line x1="240.05" y1="557.34" x2="240.05" y2="561.64" stroke="#000" stroke-width="2.5"/>
<line x1="266.51" y1="557.21" x2="266.51" y2="564.51" stroke="#000" stroke-width="2.5"/>
<line x1="292.97" y1="557.08" x2="292.97" y2="561.38" stroke="#000" stroke-width="2.5"/>
<line x1="319.43" y1="556.96" x2="319.43" y2="564.26" stroke="#000" stroke-width="2.5"/>
<line x1="345.89" y1="556.83" x2="345.89" y2="561.13" stroke="#000" stroke-width="2.5"/>
<line x1="372.35" y1="556.7" x2="372.35" y2="564" stroke="#000" stroke-width="2.5"/>
<line x1="398.81" y1="556.57" x2="398.81" y2="560.87" stroke="#000" stroke-width="2.5"/>
<line x1="425.27" y1="556.44" x2="425.27" y2="563.74" stroke="#000" stroke-width="2.5"/>
<text x="432" y="375.2" font-size="17.4" text-anchor="start" font-family="Liberation Sans, Arial, Helvetica, sans-serif" font-weight="bold" >max</text>
<text x="433.3" y="410.3" font-size="17.3" text-anchor="start" font-family="Liberation Sans, Arial, Helvetica, sans-serif" font-weight="bold" >median</text>
<text x="432.8" y="454" font-size="17.3" text-anchor="start" font-family="Liberation Sans, Arial, Helvetica, sans-serif" font-weight="bold" >min</text>
<text x="469.2" y="444" font-size="20.3" text-anchor="start" font-family="Liberation Sans, Arial, Helvetica, sans-serif" font-weight="bold" letter-spacing="0.8">500</text>
<text transform="translate(29.6,446.3) rotate(-90)" font-size="17.4" text-anchor="middle" font-family="Liberation Sans, Arial, Helvetica, sans-serif" font-weight="bold">Neutrophil Counts/µL</text>
<text x="-1.5" y="321.25" font-size="40" text-anchor="start" font-family="Liberation Sans, Arial, Helvetica, sans-serif" font-weight="bold" >B</text>
<polygon points="106.85,695.85 113.65,695.85 110.25,703.1" fill="#fff" stroke="#000" stroke-width="1.9"/>
<polygon points="110.6,700.35 117.4,700.35 114,707.6" fill="#fff" stroke="#000" stroke-width="1.9"/>
<polygon points="114.35,698.85 121.15,698.85 117.75,706.1" fill="#fff" stroke="#000" stroke-width="1.9"/>
<polygon points="118.11,698.85 124.91,698.85 121.51,706.1" fill="#fff" stroke="#000" stroke-width="1.9"/>
<polygon points="121.86,700.35 128.66,700.35 125.26,707.6" fill="#fff" stroke="#000" stroke-width="1.9"/>
<polygon points="125.61,701.35 132.41,701.35 129.01,708.6" fill="#fff" stroke="#000" stroke-width="1.9"/>
<polygon points="129.36,705.85 136.16,705.85 132.76,713.1" fill="#fff" stroke="#000" stroke-width="1.9"/>
<polygon points="133.11,710.35 139.91,710.35 136.51,717.6" fill="#fff" stroke="#000" stroke-width="1.9"/>
<polygon points="136.87,714.35 143.67,714.35 140.27,721.6" fill="#fff" stroke="#000" stroke-width="1.9"/>
<polygon points="140.62,715.95 147.42,715.95 144.02,723.2" fill="#fff" stroke="#000" stroke-width="1.9"/>
<polygon points="144.37,713.35 151.17,713.35 147.77,720.6" fill="#fff" stroke="#000" stroke-width="1.9"/>
<polygon points="148.12,706.05 154.92,706.05 151.52,713.3" fill="#fff" stroke="#000" stroke-width="1.9"/>
<polygon points="151.87,699.35 158.67,699.35 155.27,706.6" fill="#fff" stroke="#000" stroke-width="1.9"/>
<polygon points="155.63,694.35 162.43,694.35 159.03,701.6" fill="#fff" stroke="#000" stroke-width="1.9"/>
<polygon points="159.38,688.85 166.18,688.85 162.78,696.1" fill="#fff" stroke="#000" stroke-width="1.9"/>
<polygon points="163.13,689.65 169.93,689.65 166.53,696.9" fill="#fff" stroke="#000" stroke-width="1.9"/>
<polygon points="166.88,689.65 173.68,689.65 170.28,696.9" fill="#fff" stroke="#000" stroke-width="1.9"/>
<polygon points="170.63,689.65 177.43,689.65 174.03,696.9" fill="#fff" stroke="#000" stroke-width="1.9"/>
<polygon points="174.39,689.65 181.19,689.65 177.79,696.9" fill="#fff" stroke="#000" stroke-width="1.9"/>
<polygon points="178.14,693.35 184.94,693.35 181.54,700.6" fill="#fff" stroke="#000" stroke-width="1.9"/>
<polygon points="181.89,696.35 188.69,696.35 185.29,703.6" fill="#fff" stroke="#000" stroke-width="1.9"/>
<polygon points="185.64,699.65 192.44,699.65 189.04,706.9" fill="#fff" stroke="#000" stroke-width="1.9"/>
<polygon points="189.39,703.35 196.19,703.35 192.79,710.6" fill="#fff" stroke="#000" stroke-width="1.9"/>
<polygon points="193.15,701.35 199.95,701.35 196.55,708.6" fill="#fff" stroke="#000" stroke-width="1.9"/>
<polygon points="196.9,703.35 203.7,703.35 200.3,710.6" fill="#fff" stroke="#000" stroke-width="1.9"/>
<polygon points="200.65,709.35 207.45,709.35 204.05,716.6" fill="#fff" stroke="#000" stroke-width="1.9"/>
<polygon points="204.4,704.95 211.2,704.95 207.8,712.2" fill="#fff" stroke="#000" stroke-width="1.9"/>
<polygon points="208.15,702.65 214.95,702.65 211.55,709.9" fill="#fff" stroke="#000" stroke-width="1.9"/>
<polygon points="211.91,701.15 218.71,701.15 215.31,708.4" fill="#fff" stroke="#000" stroke-width="1.9"/>
<polygon points="215.66,698.05 222.46,698.05 219.06,705.3" fill="#fff" stroke="#000" stroke-width="1.9"/>
<polygon points="219.41,698.05 226.21,698.05 222.81,705.3" fill="#fff" stroke="#000" stroke-width="1.9"/>
<polygon points="223.16,700.35 229.96,700.35 226.56,707.6" fill="#fff" stroke="#000" stroke-width="1.9"/>
<polygon points="226.91,704.35 233.71,704.35 230.31,711.6" fill="#fff" stroke="#000" stroke-width="1.9"/>
<polygon points="230.67,705.75 237.47,705.75 234.07,713" fill="#fff" stroke="#000" stroke-width="1.9"/>
<polygon points="234.42,705.75 241.22,705.75 237.82,713" fill="#fff" stroke="#000" stroke-width="1.9"/>
<polygon points="238.17,705.05 244.97,705.05 241.57,712.3" fill="#fff" stroke="#000" stroke-width="1.9"/>
<polygon points="264.43,707.85 271.23,707.85 267.83,715.1" fill="#fff" stroke="#000" stroke-width="1.9"/>
<polygon points="290.7,707.35 297.5,707.35 294.1,714.6" fill="#fff" stroke="#000" stroke-width="1.9"/>
<polygon points="316.96,708.35 323.76,708.35 320.36,715.6" fill="#fff" stroke="#000" stroke-width="1.9"/>
<polygon points="343.23,699.85 350.03,699.85 346.63,707.1" fill="#fff" stroke="#000" stroke-width="1.9"/>
<polygon points="369.49,703.65 376.29,703.65 372.89,710.9" fill="#fff" stroke="#000" stroke-width="1.9"/>
<polygon points="395.75,705.65 402.55,705.65 399.15,712.9" fill="#fff" stroke="#000" stroke-width="1.9"/>
<polygon points="422.02,699.35 428.82,699.35 425.42,706.6" fill="#fff" stroke="#000" stroke-width="1.9"/>
<polyline fill="none" stroke="#000" stroke-width="3" stroke-linejoin="miter" stroke-miterlimit="3" points="110.25,699.5 114,704 117.75,702.5 121.51,702.5 125.26,704 129.01,705 132.76,709.5 136.51,714 140.27,718 144.02,719.6 147.77,717 151.52,709.7 155.27,703 159.03,698 162.78,692.5 166.53,693.3 170.28,693.3 174.03,693.3 177.79,693.3 181.54,697 185.29,700 189.04,703.3 192.79,707 196.55,705 200.3,707 204.05,713 207.8,708.6 211.55,706.3 215.31,704.8 219.06,701.7 222.81,701.7 226.56,704 230.31,708 234.07,709.4 237.82,709.4 241.57,708.7 267.83,711.5 294.1,711 320.36,712 346.63,703.5 372.89,707.3 399.15,709.3 425.42,703"/>
<polyline fill="none" stroke="#000" stroke-width="3.2" stroke-linejoin="miter" stroke-miterlimit="3" points="110.25,699.5 114,704 117.75,702.5 121.51,702.5 125.26,704 129.01,705 132.76,709.5 136.51,714 140.27,718 144.02,719.6 147.77,717 151.52,709.7 155.27,703 159.03,698 162.78,692.5 166.53,693.3 170.28,693.3 174.03,693.3 177.79,693.3 181.54,697 185.29,700 189.04,703.3 192.79,707 196.55,705 200.3,707 204.05,713 207.8,708.6 211.55,706.3 215.31,704.8 219.06,701.7 222.81,701.7 226.56,704 230.31,708 234.07,709.4 237.82,709.4 241.57,708.7"/>
<polygon points="106.85,805.35 113.65,805.35 110.25,798.1" fill="#fff" stroke="#000" stroke-width="1.9"/>
<polygon points="110.6,795.35 117.4,795.35 114,788.1" fill="#fff" stroke="#000" stroke-width="1.9"/>
<polygon points="114.35,802.25 121.15,802.25 117.75,795" fill="#fff" stroke="#000" stroke-width="1.9"/>
<polygon points="118.11,812.95 124.91,812.95 121.51,805.7" fill="#fff" stroke="#000" stroke-width="1.9"/>
<polygon points="121.86,802.25 128.66,802.25 125.26,795" fill="#fff" stroke="#000" stroke-width="1.9"/>
<polygon points="125.61,816.05 132.41,816.05 129.01,808.8" fill="#fff" stroke="#000" stroke-width="1.9"/>
<polygon points="129.36,810.65 136.16,810.65 132.76,803.4" fill="#fff" stroke="#000" stroke-width="1.9"/>
<polygon points="133.11,829.95 139.91,829.95 136.51,822.7" fill="#fff" stroke="#000" stroke-width="1.9"/>
<polygon points="136.87,813.65 143.67,813.65 140.27,806.4" fill="#fff" stroke="#000" stroke-width="1.9"/>
<polygon points="140.62,823.75 147.42,823.75 144.02,816.5" fill="#fff" stroke="#000" stroke-width="1.9"/>
<polygon points="144.37,808.35 151.17,808.35 147.77,801.1" fill="#fff" stroke="#000" stroke-width="1.9"/>
<polygon points="148.12,808.35 154.92,808.35 151.52,801.1" fill="#fff" stroke="#000" stroke-width="1.9"/>
<polygon points="151.87,819.15 158.67,819.15 155.27,811.9" fill="#fff" stroke="#000" stroke-width="1.9"/>
<polygon points="155.63,810.65 162.43,810.65 159.03,803.4" fill="#fff" stroke="#000" stroke-width="1.9"/>
<polygon points="159.38,812.25 166.18,812.25 162.78,805" fill="#fff" stroke="#000" stroke-width="1.9"/>
<polygon points="163.13,806.85 169.93,806.85 166.53,799.6" fill="#fff" stroke="#000" stroke-width="1.9"/>
<polygon points="166.88,806.85 173.68,806.85 170.28,799.6" fill="#fff" stroke="#000" stroke-width="1.9"/>
<polygon points="170.63,799.15 177.43,799.15 174.03,791.9" fill="#fff" stroke="#000" stroke-width="1.9"/>
<polygon points="174.39,812.25 181.19,812.25 177.79,805" fill="#fff" stroke="#000" stroke-width="1.9"/>
<polygon points="178.14,807.65 184.94,807.65 181.54,800.4" fill="#fff" stroke="#000" stroke-width="1.9"/>
<polygon points="181.89,799.15 188.69,799.15 185.29,791.9" fill="#fff" stroke="#000" stroke-width="1.9"/>
<polygon points="185.64,812.25 192.44,812.25 189.04,805" fill="#fff" stroke="#000" stroke-width="1.9"/>
<polygon points="189.39,790.65 196.19,790.65 192.79,783.4" fill="#fff" stroke="#000" stroke-width="1.9"/>
<polygon points="193.15,797.65 199.95,797.65 196.55,790.4" fill="#fff" stroke="#000" stroke-width="1.9"/>
<polygon points="196.9,806.85 203.7,806.85 200.3,799.6" fill="#fff" stroke="#000" stroke-width="1.9"/>
<polygon points="200.65,809.15 207.45,809.15 204.05,801.9" fill="#fff" stroke="#000" stroke-width="1.9"/>
<polygon points="204.4,822.95 211.2,822.95 207.8,815.7" fill="#fff" stroke="#000" stroke-width="1.9"/>
<polygon points="208.15,815.65 214.95,815.65 211.55,808.4" fill="#fff" stroke="#000" stroke-width="1.9"/>
<polygon points="211.91,811.45 218.71,811.45 215.31,804.2" fill="#fff" stroke="#000" stroke-width="1.9"/>
<polygon points="215.66,802.25 222.46,802.25 219.06,795" fill="#fff" stroke="#000" stroke-width="1.9"/>
<polygon points="219.41,822.95 226.21,822.95 222.81,815.7" fill="#fff" stroke="#000" stroke-width="1.9"/>
<polygon points="223.16,818.35 229.96,818.35 226.56,811.1" fill="#fff" stroke="#000" stroke-width="1.9"/>
<polygon points="226.91,813.75 233.71,813.75 230.31,806.5" fill="#fff" stroke="#000" stroke-width="1.9"/>
<polygon points="230.67,828.65 237.47,828.65 234.07,821.4" fill="#fff" stroke="#000" stroke-width="1.9"/>
<polygon points="234.42,805.35 241.22,805.35 237.82,798.1" fill="#fff" stroke="#000" stroke-width="1.9"/>
<polygon points="238.17,795.35 244.97,795.35 241.57,788.1" fill="#fff" stroke="#000" stroke-width="1.9"/>
<polygon points="264.43,784.15 271.23,784.15 267.83,776.9" fill="#fff" stroke="#000" stroke-width="1.9"/>
<polygon points="290.7,819.15 297.5,819.15 294.1,811.9" fill="#fff" stroke="#000" stroke-width="1.9"/>
<polygon points="316.96,812.15 323.76,812.15 320.36,804.9" fill="#fff" stroke="#000" stroke-width="1.9"/>
<polygon points="343.23,793.85 350.03,793.85 346.63,786.6" fill="#fff" stroke="#000" stroke-width="1.9"/>
<polygon points="369.49,828.95 376.29,828.95 372.89,821.7" fill="#fff" stroke="#000" stroke-width="1.9"/>
<polygon points="395.75,792.35 402.55,792.35 399.15,785.1" fill="#fff" stroke="#000" stroke-width="1.9"/>
<polygon points="422.02,802.95 428.82,802.95 425.42,795.7" fill="#fff" stroke="#000" stroke-width="1.9"/>
<polyline fill="none" stroke="#000" stroke-width="3" stroke-linejoin="miter" stroke-miterlimit="3" points="110.25,801.7 114,791.7 117.75,798.6 121.51,809.3 125.26,798.6 129.01,812.4 132.76,807 136.51,826.3 140.27,810 144.02,820.1 147.77,804.7 151.52,804.7 155.27,815.5 159.03,807 162.78,808.6 166.53,803.2 170.28,803.2 174.03,795.5 177.79,808.6 181.54,804 185.29,795.5 189.04,808.6 192.79,787 196.55,794 200.3,803.2 204.05,805.5 207.8,819.3 211.55,812 215.31,807.8 219.06,798.6 222.81,819.3 226.56,814.7 230.31,810.1 234.07,825 237.82,801.7 241.57,791.7 267.83,780.5 294.1,815.5 320.36,808.5 346.63,790.2 372.89,825.3 399.15,788.7 425.42,799.3"/>
<polyline fill="none" stroke="#000" stroke-width="3.2" stroke-linejoin="miter" stroke-miterlimit="3" points="110.25,801.7 114,791.7 117.75,798.6 121.51,809.3 125.26,798.6 129.01,812.4 132.76,807 136.51,826.3 140.27,810 144.02,820.1 147.77,804.7 151.52,804.7 155.27,815.5 159.03,807 162.78,808.6 166.53,803.2 170.28,803.2 174.03,795.5 177.79,808.6 181.54,804 185.29,795.5 189.04,808.6 192.79,787 196.55,794 200.3,803.2 204.05,805.5 207.8,819.3 211.55,812 215.31,807.8 219.06,798.6 222.81,819.3 226.56,814.7 230.31,810.1 234.07,825 237.82,801.7 241.57,791.7"/>
<polyline fill="none" stroke="#000" stroke-width="3" stroke-linejoin="miter" stroke-miterlimit="3" points="110.25,740.3 114,739.5 117.75,741.5 121.51,743.8 125.26,745.7 129.01,748 132.76,750.8 136.51,753.8 140.27,758 144.02,759.5 147.77,758.8 151.52,752.3 155.27,747 159.03,743 162.78,740 166.53,737.7 170.28,736.5 174.03,735.7 177.79,735.2 181.54,733.4 185.29,733.6 189.04,735.4 192.79,736.5 196.55,737.8 200.3,738.6 204.05,738.8 207.8,738.8 211.55,739.2 215.31,739.5 219.06,741 222.81,741.8 226.56,741.8 230.31,741.5 234.07,740.3 237.82,738 241.57,736.8 267.83,734.25 294.1,734.25 320.36,736.25 346.63,737.2 372.89,735.8 399.15,737.4 425.42,737.4"/>
<rect x="105.75" y="735.8" width="9" height="9" fill="#000"/>
<rect x="109.5" y="735" width="9" height="9" fill="#000"/>
<rect x="113.25" y="737" width="9" height="9" fill="#000"/>
<rect x="117.01" y="739.3" width="9" height="9" fill="#000"/>
<rect x="120.76" y="741.2" width="9" height="9" fill="#000"/>
<rect x="124.51" y="743.5" width="9" height="9" fill="#000"/>
<rect x="128.26" y="746.3" width="9" height="9" fill="#000"/>
<rect x="132.01" y="749.3" width="9" height="9" fill="#000"/>
<rect x="135.77" y="753.5" width="9" height="9" fill="#000"/>
<rect x="139.52" y="755" width="9" height="9" fill="#000"/>
<rect x="143.27" y="754.3" width="9" height="9" fill="#000"/>
<rect x="147.02" y="747.8" width="9" height="9" fill="#000"/>
<rect x="150.77" y="742.5" width="9" height="9" fill="#000"/>
<rect x="154.53" y="738.5" width="9" height="9" fill="#000"/>
<rect x="158.28" y="735.5" width="9" height="9" fill="#000"/>
<rect x="162.03" y="733.2" width="9" height="9" fill="#000"/>
<rect x="165.78" y="732" width="9" height="9" fill="#000"/>
<rect x="169.53" y="731.2" width="9" height="9" fill="#000"/>
<rect x="173.29" y="730.7" width="9" height="9" fill="#000"/>
<rect x="177.04" y="728.9" width="9" height="9" fill="#000"/>
<rect x="180.79" y="729.1" width="9" height="9" fill="#000"/>
<rect x="184.54" y="730.9" width="9" height="9" fill="#000"/>
<rect x="188.29" y="732" width="9" height="9" fill="#000"/>
<rect x="192.05" y="733.3" width="9" height="9" fill="#000"/>
<rect x="195.8" y="734.1" width="9" height="9" fill="#000"/>
<rect x="199.55" y="734.3" width="9" height="9" fill="#000"/>
<rect x="203.3" y="734.3" width="9" height="9" fill="#000"/>
<rect x="207.05" y="734.7" width="9" height="9" fill="#000"/>
<rect x="210.81" y="735" width="9" height="9" fill="#000"/>
<rect x="214.56" y="736.5" width="9" height="9" fill="#000"/>
<rect x="218.31" y="737.3" width="9" height="9" fill="#000"/>
<rect x="222.06" y="737.3" width="9" height="9" fill="#000"/>
<rect x="225.81" y="737" width="9" height="9" fill="#000"/>
<rect x="229.57" y="735.8" width="9" height="9" fill="#000"/>
<rect x="233.32" y="733.5" width="9" height="9" fill="#000"/>
<rect x="237.07" y="732.3" width="9" height="9" fill="#000"/>
<rect x="263.33" y="729.75" width="9" height="9" fill="#000"/>
<rect x="289.6" y="729.75" width="9" height="9" fill="#000"/>
<rect x="315.86" y="731.75" width="9" height="9" fill="#000"/>
<rect x="342.13" y="732.7" width="9" height="9" fill="#000"/>
<rect x="368.39" y="731.3" width="9" height="9" fill="#000"/>
<rect x="394.65" y="732.9" width="9" height="9" fill="#000"/>
<rect x="420.92" y="732.9" width="9" height="9" fill="#000"/>
<line x1="86.2" y1="787.6" x2="454" y2="785.91" stroke="#000" stroke-width="3"/>
<line x1="106.3" y1="640.25" x2="106.9" y2="859.1" stroke="#000" stroke-width="2.8"/>
<line x1="105.8" y1="858" x2="433.75" y2="856.5" stroke="#000" stroke-width="2.8"/>
<line x1="98.5" y1="641.28" x2="106.3" y2="641.25" stroke="#000" stroke-width="2.5"/>
<text transform="translate(98,646.95) scale(0.920,1)" font-size="16.3" text-anchor="end" font-family="Liberation Sans, Arial, Helvetica, sans-serif" font-weight="bold" >10000000</text>
<line x1="98.65" y1="695.47" x2="106.45" y2="695.44" stroke="#000" stroke-width="2.5"/>
<text transform="translate(98.15,701.14) scale(0.920,1)" font-size="16.3" text-anchor="end" font-family="Liberation Sans, Arial, Helvetica, sans-serif" font-weight="bold" >1000000</text>
<line x1="98.8" y1="749.65" x2="106.6" y2="749.62" stroke="#000" stroke-width="2.5"/>
<text transform="translate(98.3,755.33) scale(0.920,1)" font-size="16.3" text-anchor="end" font-family="Liberation Sans, Arial, Helvetica, sans-serif" font-weight="bold" >100000</text>
<line x1="98.95" y1="803.84" x2="106.75" y2="803.81" stroke="#000" stroke-width="2.5"/>
<text transform="translate(98.45,809.51) scale(0.920,1)" font-size="16.3" text-anchor="end" font-family="Liberation Sans, Arial, Helvetica, sans-serif" font-weight="bold" >10000</text>
<line x1="99.1" y1="858.03" x2="106.9" y2="858" stroke="#000" stroke-width="2.5"/>
<text transform="translate(98.6,863.7) scale(0.920,1)" font-size="16.3" text-anchor="end" font-family="Liberation Sans, Arial, Helvetica, sans-serif" font-weight="bold" >1000</text>
<line x1="110.25" y1="857.98" x2="110.25" y2="865.28" stroke="#000" stroke-width="2.5"/>
<text transform="translate(110.25,882.68) scale(0.910,1)" font-size="16.8" text-anchor="middle" font-family="Liberation Sans, Arial, Helvetica, sans-serif" font-weight="bold" >0</text>
<line x1="136.51" y1="857.86" x2="136.51" y2="862.36" stroke="#000" stroke-width="2.5"/>
<line x1="162.78" y1="857.74" x2="162.78" y2="865.04" stroke="#000" stroke-width="2.5"/>
<text transform="translate(162.78,882.44) scale(0.910,1)" font-size="16.8" text-anchor="middle" font-family="Liberation Sans, Arial, Helvetica, sans-serif" font-weight="bold" >14</text>
<line x1="189.04" y1="857.62" x2="189.04" y2="862.12" stroke="#000" stroke-width="2.5"/>
<line x1="215.31" y1="857.5" x2="215.31" y2="864.8" stroke="#000" stroke-width="2.5"/>
<text transform="translate(215.31,882.2) scale(0.910,1)" font-size="16.8" text-anchor="middle" font-family="Liberation Sans, Arial, Helvetica, sans-serif" font-weight="bold" >28</text>
<line x1="241.57" y1="857.38" x2="241.57" y2="861.88" stroke="#000" stroke-width="2.5"/>
<line x1="267.83" y1="857.26" x2="267.83" y2="864.56" stroke="#000" stroke-width="2.5"/>
<text transform="translate(267.83,881.96) scale(0.910,1)" font-size="16.8" text-anchor="middle" font-family="Liberation Sans, Arial, Helvetica, sans-serif" font-weight="bold" >42</text>
<line x1="294.1" y1="857.14" x2="294.1" y2="861.64" stroke="#000" stroke-width="2.5"/>
<line x1="320.36" y1="857.02" x2="320.36" y2="864.32" stroke="#000" stroke-width="2.5"/>
<text transform="translate(320.36,881.72) scale(0.910,1)" font-size="16.8" text-anchor="middle" font-family="Liberation Sans, Arial, Helvetica, sans-serif" font-weight="bold" >56</text>
<line x1="346.63" y1="856.9" x2="346.63" y2="861.4" stroke="#000" stroke-width="2.5"/>
<line x1="372.89" y1="856.78" x2="372.89" y2="864.08" stroke="#000" stroke-width="2.5"/>
<text transform="translate(372.89,881.48) scale(0.910,1)" font-size="16.8" text-anchor="middle" font-family="Liberation Sans, Arial, Helvetica, sans-serif" font-weight="bold" >70</text>
<line x1="399.15" y1="856.66" x2="399.15" y2="861.16" stroke="#000" stroke-width="2.5"/>
<line x1="425.42" y1="856.54" x2="425.42" y2="863.84" stroke="#000" stroke-width="2.5"/>
<text transform="translate(425.42,881.24) scale(0.910,1)" font-size="16.8" text-anchor="middle" font-family="Liberation Sans, Arial, Helvetica, sans-serif" font-weight="bold" >84</text>
<text x="434.7" y="704" font-size="17.4" text-anchor="start" font-family="Liberation Sans, Arial, Helvetica, sans-serif" font-weight="bold" >max</text>
<text x="435.8" y="741.5" font-size="17.3" text-anchor="start" font-family="Liberation Sans, Arial, Helvetica, sans-serif" font-weight="bold" >median</text>
<text x="437.8" y="804.8" font-size="17.3" text-anchor="start" font-family="Liberation Sans, Arial, Helvetica, sans-serif" font-weight="bold" >min</text>
<text x="460.2" y="788.3" font-size="20.3" text-anchor="start" font-family="Liberation Sans, Arial, Helvetica, sans-serif" font-weight="bold" letter-spacing="0.75">20000</text>
<text x="206" y="905" font-size="17.8" text-anchor="start" font-family="Liberation Sans, Arial, Helvetica, sans-serif" font-weight="bold" >Days after HCT</text>
<text transform="translate(14.8,751.2) rotate(-90)" font-size="18" text-anchor="middle" font-family="Liberation Sans, Arial, Helvetica, sans-serif" font-weight="bold">Platelet Counts/µL</text>
<text x="-1" y="623.5" font-size="40" text-anchor="start" font-family="Liberation Sans, Arial, Helvetica, sans-serif" font-weight="bold" >C</text>
</svg></body></html>
